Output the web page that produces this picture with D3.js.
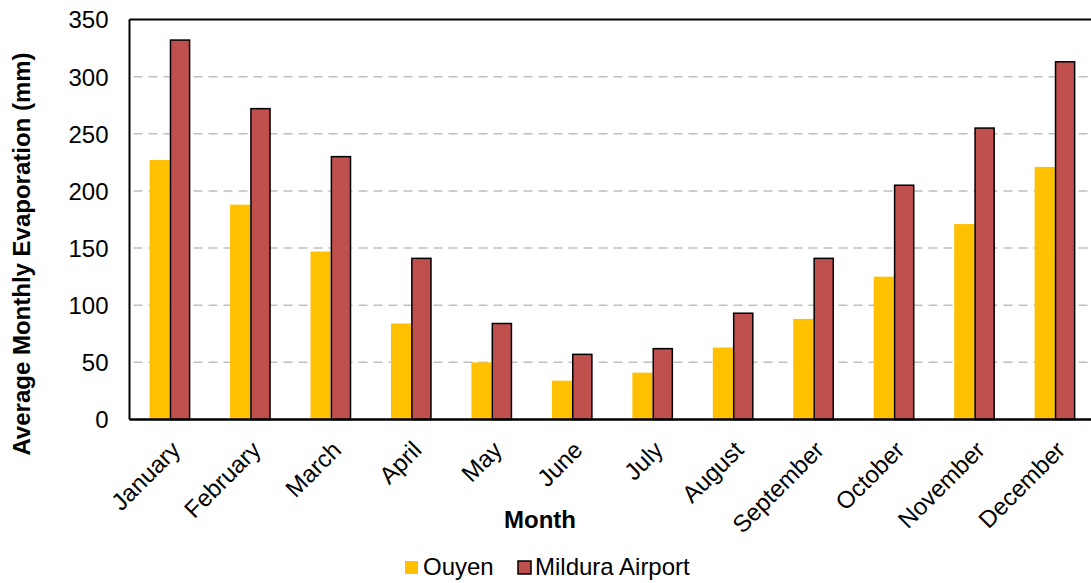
<!DOCTYPE html>
<html>
<head>
<meta charset="utf-8">
<script src="https://cdn.jsdelivr.net/npm/d3@7"></script>
<style>
  body { margin: 0; background: #fff; }
  text { font-family: "Liberation Sans", Arial, sans-serif; fill: #000; }
</style>
</head>
<body>
<div id="chart"></div>
<script>
// values
var months = ["January", "February", "March", "April", "May", "June", "July",
              "August", "September", "October", "November", "December"];
var ouyen = [227, 188, 147, 84, 50, 34, 41, 63, 88, 125, 171, 221];
var mildura = [332, 272, 230, 141, 84, 57, 62, 93, 141, 205, 255, 313];
var seriesNames = ["Ouyen", "Mildura Airport"];
var yTicks = [0, 50, 100, 150, 200, 250, 300, 350];

var margin = {top: 19.5, right: -4, bottom: 163.5, left: 129.5},
    W = 1091, H = 583,
    width = W - margin.left - margin.right,
    height = H - margin.top - margin.bottom;

var data = months.map(function(m, i) {
    return {month: m, values: [ouyen[i], mildura[i]]};
});

var x = d3.scaleBand().domain(months).range([0, width]).paddingInner(0.5).paddingOuter(0.25);
var xs = d3.scaleBand().domain([0, 1]).range([0, x.bandwidth()]);
var y = d3.scaleLinear().domain([0, 350]).range([height, 0]);
var colors = ["#FFC000", "#C0504D"];

var svg = d3.select("#chart").append("svg")
    .attr("width", W)
    .attr("height", H);

var g = svg.append("g")
    .attr("transform", "translate(" + margin.left + "," + margin.top + ")");

// gridlines
g.selectAll(".grid")
    .data(yTicks.filter(function(d) { return d > 0 && d < 350; }))
    .enter().append("line")
    .attr("x1", 4).attr("x2", width)
    .attr("y1", function(d) { return y(d); })
    .attr("y2", function(d) { return y(d); })
    .attr("stroke", "#c0c0c0")
    .attr("stroke-width", 1.5)
    .attr("stroke-dasharray", "9,6");

// bars
var groups = g.selectAll(".grp")
    .data(data)
    .enter().append("g")
    .attr("transform", function(d) { return "translate(" + x(d.month) + ",0)"; });

groups.selectAll("rect")
    .data(function(d) { return d.values.map(function(v, i) { return {i: i, v: v}; }); })
    .enter().append("rect")
    .attr("x", function(d) { return xs(d.i) + (d.i == 1 ? 0.75 : 0); })
    .attr("width", function(d) { return xs.bandwidth() - (d.i == 1 ? 1 : 0); })
    .attr("y", function(d) { return y(d.v); })
    .attr("height", function(d) { return height - y(d.v); })
    .attr("fill", function(d) { return colors[d.i]; })
    .attr("stroke", function(d) { return d.i == 1 ? "#000" : "none"; })
    .attr("stroke-width", 1.5);

// frame
g.append("line").attr("x1", 0).attr("x2", width).attr("y1", 0).attr("y2", 0)
    .attr("stroke", "#000").attr("stroke-width", 2);
g.append("line").attr("x1", 0).attr("x2", width).attr("y1", height).attr("y2", height)
    .attr("stroke", "#000").attr("stroke-width", 2.5);
g.append("line").attr("x1", 0).attr("x2", 0).attr("y1", 0).attr("y2", height)
    .attr("stroke", "#000").attr("stroke-width", 2);

// y axis
var yAxis = g.append("g")
    .call(d3.axisLeft(y).tickValues(yTicks).tickSize(0).tickPadding(21));
yAxis.select(".domain").remove();
yAxis.selectAll("text")
    .style("font-size", "24px")
    .attr("dy", "0.35em");

// x axis labels
var xAxis = g.append("g")
    .attr("transform", "translate(0," + height + ")")
    .call(d3.axisBottom(x).tickSize(0));
xAxis.select(".domain").remove();
xAxis.selectAll("text")
    .style("font-size", "24px")
    .style("text-anchor", "end")
    .attr("dy", null)
    .attr("y", 0)
    .attr("transform", "translate(12,32) rotate(-45)");

// axis titles
svg.append("text")
    .attr("transform", "translate(30,254) rotate(-90)")
    .attr("text-anchor", "middle")
    .style("font-size", "24px")
    .style("font-weight", "bold")
    .text("Average Monthly Evaporation (mm)");

svg.append("text")
    .attr("x", 540).attr("y", 528)
    .attr("text-anchor", "middle")
    .style("font-size", "24px")
    .style("font-weight", "bold")
    .text("Month");

// legend
var legendX = [405, 518];
var legend = svg.selectAll(".legend")
    .data(seriesNames)
    .enter().append("g")
    .attr("transform", function(d, i) { return "translate(" + legendX[i] + ",561)"; });

legend.append("rect")
    .attr("width", 13).attr("height", 13)
    .attr("fill", function(d, i) { return colors[i]; })
    .attr("stroke", function(d, i) { return i == 1 ? "#000" : "none"; })
    .attr("stroke-width", 1.5);

legend.append("text")
    .attr("x", function(d, i) { return i == 1 ? 17 : 18; })
    .attr("y", 14)
    .style("font-size", "24px")
    .text(function(d) { return d; });
</script>
</body>
</html>
